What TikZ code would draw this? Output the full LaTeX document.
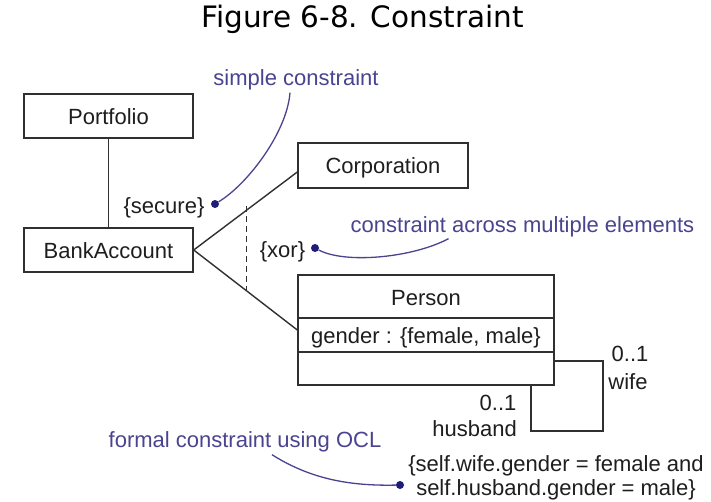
\documentclass[tikz,border=0pt]{standalone}
\usepackage{fontspec}
\setmainfont{Liberation Sans}
\newfontfamily\titlefont{DejaVu Sans}
\definecolor{notetext}{HTML}{4A4490}
\definecolor{notedot}{HTML}{1E1E78}
\definecolor{umlline}{HTML}{303030}
\definecolor{umltext}{HTML}{1E1E1E}
\begin{document}
\begin{tikzpicture}[x=1pt,y=-1pt,font=\fontsize{22}{24}\selectfont]
    \tikzset{
      umlbox/.style={draw=umlline,line width=1.4pt,inner sep=0pt,text=umltext,
        text height=19pt,text depth=2pt},
      assoc/.style={umlline,line width=1.4pt},
      notelabel/.style={text=notetext,inner sep=1pt,text height=19pt,text depth=2pt},
      umllabel/.style={text=umltext,inner sep=1pt,text height=19pt,text depth=2pt},
      notedotnode/.style={circle,fill=notedot,inner sep=0pt,minimum size=8pt},
      noteline/.style={notetext,line width=1.3pt}
    }
    \path[use as bounding box,fill=white] (0,0) rectangle (711,502);

    %TITLE
    \node[text=black,font=\titlefont\fontsize{29.5}{31}\selectfont] (title) at (362.5,19) {Figure 6-8. Constraint};

    %CLASSES
    \node[umlbox,minimum width=169pt,minimum height=44pt] (portfolio) at (108.5,116) {Portfolio};
    \node[umlbox,minimum width=169pt,minimum height=44pt] (bank) at (108.5,250) {BankAccount};
    \node[umlbox,minimum width=170pt,minimum height=45pt] (corp) at (383,165.5) {Corporation};
    \node[umlbox,minimum width=256pt,minimum height=43pt] (personname) at (426,296.5) {Person};
    \node[umlbox,minimum width=256pt,minimum height=34pt] (personattr) at (426,335) {gender : \{female, male\}};
    \node[umlbox,minimum width=256pt,minimum height=33pt] (personops) at (426,368.5) {};

    %ASSOCIATIONS
    \draw[assoc] (portfolio) -- (bank);
    \draw[assoc] (bank.east) -- ([yshift=-6.5pt]corp.west) coordinate[pos=0.51] (xortop);
    \draw[assoc] (bank.east) -- ([yshift=5pt]personattr.west) coordinate[pos=0.51] (xorbot);
    \draw[assoc,dashed,dash pattern=on 6pt off 4pt] ([yshift=4pt]xortop) -- (xorbot);

    \coordinate (loopcorner) at (603,431);
    \draw[assoc] ([yshift=7.5pt]personops.east) -| (loopcorner) -| ([xshift=105pt]personops.south);

    \node[umllabel] (wifemult) at (630,353) {0..1};
    \node[umllabel] (wife) at (628,381) {wife};
    \node[umllabel] (husbandmult) at (498,402) {0..1};
    \node[umllabel,anchor=east] (husband) at (518,428) {husband};

    %CONSTRAINTS
    \node[umllabel] (secure) at (164,205) {\{secure\}};
    \node[notedotnode] (securedot) at (215,204) {};
    \node[umllabel] (xor) at (282.5,249) {\{xor\}};
    \node[notedotnode] (xordot) at (315,248) {};
    \node[umllabel] (ocla) at (556,463) {\{self.wife.gender = female and};
    \node[umllabel] (oclb) at (556,487) {self.husband.gender = male\}};
    \node[notedotnode] (ocldot) at (400,485) {};

    %NOTES
    \node[notelabel] (simple) at (296,77) {simple constraint};
    \node[notelabel] (across) at (522.5,224) {constraint across multiple elements};
    \node[notelabel] (formal) at (245,439) {formal constraint using OCL};

    \draw[noteline] (securedot) .. controls (248,184) and (287,132) .. ([xshift=-6pt,yshift=-4pt]simple.south);
    \draw[noteline] (xordot) .. controls (345,264) and (412,258) .. ([xshift=-74pt,yshift=-3pt]across.south);
    \draw[noteline] ([xshift=27pt,yshift=-4pt]formal.south) .. controls (312,480) and (352,486) .. (ocldot);
\end{tikzpicture}
\end{document}
